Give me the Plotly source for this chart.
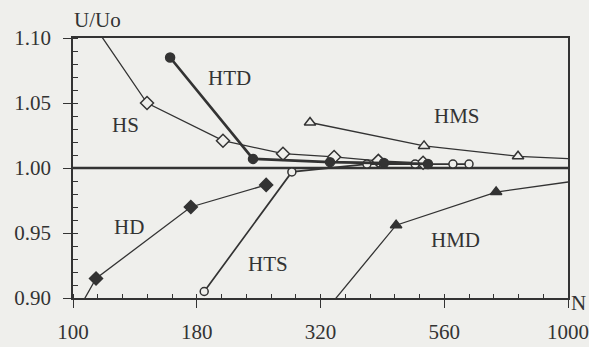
import plotly.graph_objects as go

# ---- data: relative speed U/Uo against N for six configurations ----
hs_n = [112.9, 141.1, 200.9, 265.6, 336.9, 413.9, 509.6]
hs_u = [1.104, 1.050, 1.021, 1.011, 1.0085, 1.0055, 1.004]
hs_marked = [0, 1, 1, 1, 1, 1, 1]

htd_n = [157.1, 231.0, 330.6, 424.8, 521.3]
htd_u = [1.085, 1.007, 1.0045, 1.0038, 1.0031]
htd_marked = [1, 1, 1, 1, 1]

hts_n = [184.1, 276.8, 392.5, 491.1, 585.5, 631.0]
hts_u = [0.905, 0.997, 1.003, 1.003, 1.003, 1.003]
hts_marked = [1, 1, 1, 1, 1, 1]

hd_n = [104.3, 111.3, 173.0, 245.6]
hd_u = [0.896, 0.915, 0.970, 0.987]
hd_marked = [0, 1, 1, 1]

hms_n = [301.2, 511.9, 792.6, 1033.0]
hms_u = [1.035, 1.017, 1.009, 1.007]
hms_marked = [1, 1, 1, 0]

hmd_n = [335.0, 449.5, 715.8, 1033.0]
hmd_u = [0.897, 0.956, 0.9815, 0.990]
hmd_marked = [0, 1, 1, 0]

x_tick_labels = ["100", "180", "320", "560", "1000"]
y_tick_labels = ["0.90", "0.95", "1.00", "1.05", "1.10"]
reference_u = 1.00

# ---- geometry / style ----
W, H = 589, 347
L, R, T, B = 73, 568, 38, 298          # frame in pixels
BG = "#efefec"
INK = "#333333"
FONT = "Liberation Serif"
FS = 21

x_lo, x_hi = 2.0, 3.0                   # log10 range of the frame
y_lo, y_hi = 0.90, 1.10


def paper(px, py):
    return px / W, 1 - py / H


fig = go.Figure()


def curve(n, u, marked, symbol, size, filled, width):
    fig.add_trace(go.Scatter(
        x=n, y=u, mode="lines+markers",
        line=dict(color=INK, width=width),
        marker=dict(symbol=symbol, size=size,
                    color=INK if filled else BG,
                    opacity=marked,
                    line=dict(color=INK, width=1.5)),
        showlegend=False, cliponaxis=False, hoverinfo="skip"))


curve(hs_n, hs_u, hs_marked, "diamond", 10, False, 1.3)
curve(hd_n, hd_u, hd_marked, "diamond", 10, True, 1.3)
curve(hts_n, hts_u, hts_marked, "circle", 8, False, 1.7)
curve(hms_n, hms_u, hms_marked, "triangle-up", 10, False, 1.3)
curve(hmd_n, hmd_u, hmd_marked, "triangle-up", 10, True, 1.3)
curve(htd_n, htd_u, htd_marked, "circle", 9, True, 2.7)

# reference line at U/Uo = 1
fig.add_shape(type="line", xref="x", yref="y", x0=100, x1=1000,
              y0=reference_u, y1=reference_u,
              line=dict(color=INK, width=2.3), layer="below")

# quarter-decade log grid on N: plotly names these ticks by their rounded
# values, which are renamed to the book's labels
x_step = (x_hi - x_lo) / (len(x_tick_labels) - 1)
x_alias = {f"{10 ** (x_lo + i * x_step):.0f}": lab
           for i, lab in enumerate(x_tick_labels)}

tickfont = dict(family=FONT, size=FS, color=INK)

fig.update_layout(
    template="none",
    width=W, height=H,
    margin=dict(l=0, r=0, t=0, b=0, pad=0, autoexpand=False),
    paper_bgcolor=BG, plot_bgcolor=BG,
    xaxis=dict(type="log", range=[x_lo, x_hi],
               domain=[L / W, R / W], anchor="y",
               showline=True, linecolor=INK, linewidth=1.6, mirror=True,
               showgrid=False, zeroline=False, automargin=False,
               tickmode="linear", tick0=x_lo, dtick=x_step,
               tickformat=".0f", labelalias=x_alias,
               ticks="outside", ticklen=8, tickwidth=1.3, tickcolor=INK,
               ticklabelstandoff=6, tickfont=tickfont,
               minor=dict(ticks="inside", ticklen=4, tickwidth=1.2,
                          tickcolor=INK, tick0=x_lo, dtick=x_step / 5,
                          showgrid=False)),
    yaxis=dict(range=[y_lo, y_hi],
               domain=[1 - B / H, 1 - T / H], anchor="x",
               showline=True, linecolor=INK, linewidth=1.6, mirror=True,
               showgrid=False, zeroline=False, automargin=False,
               tickmode="linear", tick0=y_lo, dtick=0.05, tickformat=".2f",
               ticks="outside", ticklen=8, tickwidth=1.3, tickcolor=INK,
               ticklabelstandoff=8, tickfont=tickfont,
               minor=dict(ticks="inside", ticklen=5, tickwidth=1.2,
                          tickcolor=INK, tick0=y_lo, dtick=0.01,
                          showgrid=False)),
)

# axis titles and curve names
labels = [
    ("U/Uo", 97, 20, "center"),
    ("N", 588, 303, "right"),
    ("HTD", 229, 78, "center"),
    ("HS", 125, 125, "center"),
    ("HMS", 457, 116, "center"),
    ("HD", 129, 227, "center"),
    ("HTS", 268, 264, "center"),
    ("HMD", 455, 240, "center"),
]
for text, px, py, anchor in labels:
    ax, ay = paper(px, py)
    fig.add_annotation(text=text, x=ax, y=ay, xref="paper", yref="paper",
                       xanchor=anchor, yanchor="middle", showarrow=False,
                       font=dict(family=FONT, size=FS, color=INK))

fig.write_html("out.html")
